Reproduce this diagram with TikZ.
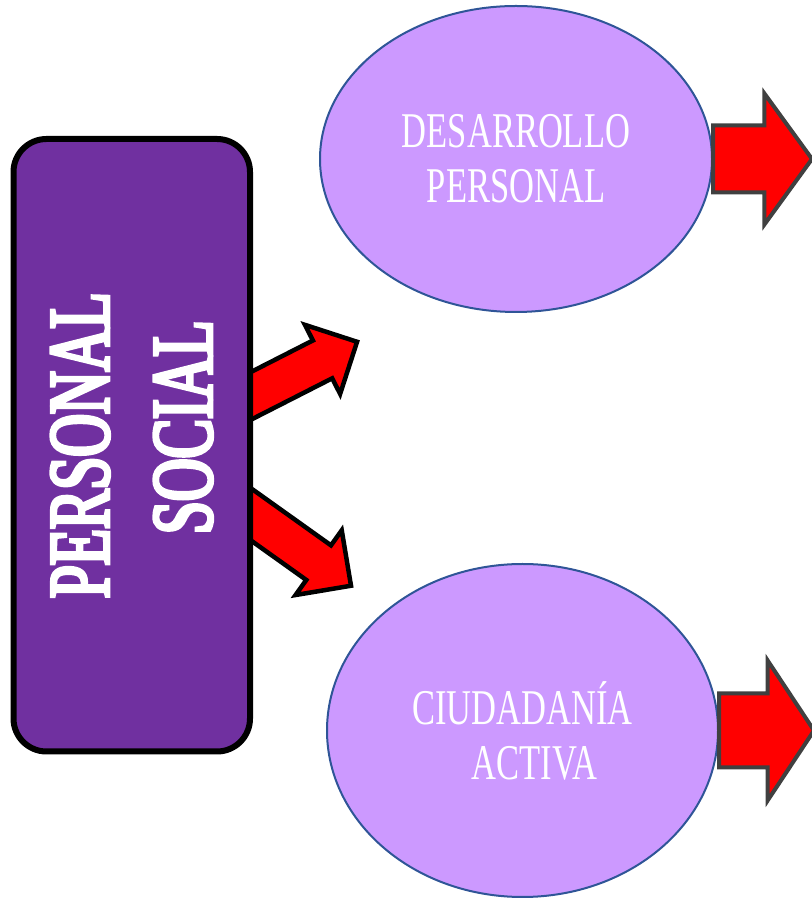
\documentclass[tikz,border=0pt]{standalone}
\usepackage{fontspec}
\usetikzlibrary{shapes.geometric,shapes.arrows}
\newfontfamily\topicfont[FakeStretch=0.69]{Liberation Serif}
\newfontfamily\areafont[FakeStretch=0.68,FakeBold=4]{Liberation Serif}
\definecolor{areapurple}{HTML}{7030A0}
\definecolor{topicfill}{HTML}{CC99FF}
\definecolor{topicline}{HTML}{2F5597}
\definecolor{arrowgray}{HTML}{404040}
\begin{document}
\begin{tikzpicture}[line join=miter,
  redarrow/.style={single arrow,draw=black,fill=red,line width=4.5bp,inner xsep=0bp,outer sep=0bp,anchor=tail,single arrow tip angle=90},
  sidearrow/.style={redarrow,draw=arrowgray,line width=4bp},
  topic/.style={ellipse,draw=topicline,line width=2bp,fill=topicfill,text=white,inner sep=0bp,align=center,font=\topicfont\fontsize{50bp}{55bp}\selectfont},
]
%%
\useasboundingbox (0bp,0bp) rectangle (812bp,898bp);
\node (arrow_0) at (235bp,494bp) [redarrow,rotate=27,inner ysep=19bp,single arrow head extend=17.5bp,minimum height=137bp] {};
  \node (arrow_1) at (235bp,395bp) [redarrow,rotate=-35.5,inner ysep=19bp,single arrow head extend=18.5bp,minimum height=142.5bp] {};
  \node (node_0) at (131.75bp,452.75bp) [draw=black,line width=6bp,fill=areapurple,rounded corners=33bp,rotate=90,minimum width=612.5bp,minimum height=236.5bp,text=white,align=center,font=\areafont\fontsize{87bp}{103bp}\selectfont] {PERSONAL\\\hspace*{36bp}SOCIAL};
  \node (node_1) at (516bp,739bp) [topic,minimum width=392bp,minimum height=306bp] {DESARROLLO\\PERSONAL};
  \node (node_2) at (522.5bp,167.5bp) [topic,minimum width=391bp,minimum height=333bp] {CIUDADANÍA\\\hspace*{24bp}ACTIVA};
  \node (arrow_2) at (node_1.east) [sidearrow,inner ysep=31.5bp,single arrow head extend=32bp,single arrow tip angle=108,minimum height=99bp] {};
  \node (arrow_3) at (node_2.east) [sidearrow,inner ysep=35bp,single arrow head extend=33bp,single arrow tip angle=113,minimum height=95bp] {};
%
\end{tikzpicture}
\end{document}
